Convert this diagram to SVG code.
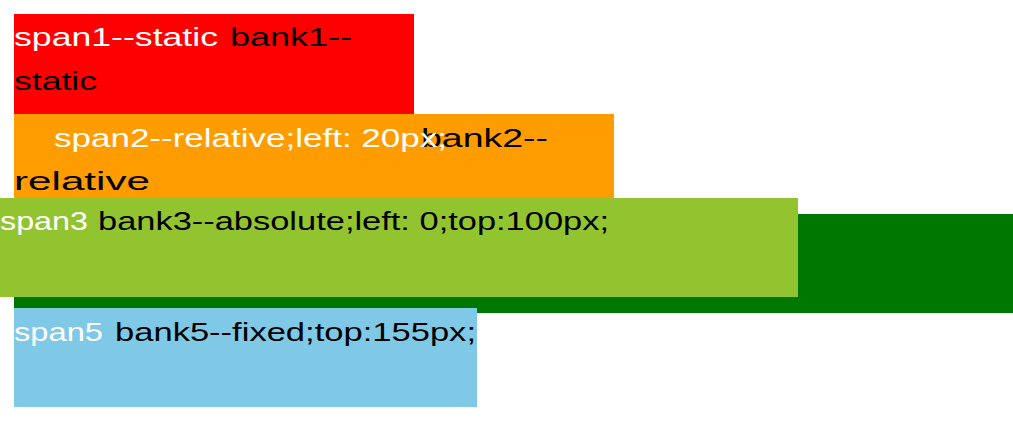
<svg xmlns="http://www.w3.org/2000/svg" width="1013" height="446" viewBox="0 0 1013 446">
<style>
text{font-family:"Liberation Sans","Noto Sans",Arial,sans-serif;font-size:26.5px}
.w{fill:#ffffff}
.k{fill:#000000}
</style>
<rect x="0" y="0" width="1013" height="446" fill="#ffffff"/>
<g id="bank1">
<rect x="14" y="14" width="400" height="100" fill="#ff0000"/>
<text class="w" x="14" y="46" textLength="204" lengthAdjust="spacingAndGlyphs">span1--static</text>
<text class="k" x="230" y="46" textLength="122" lengthAdjust="spacingAndGlyphs">bank1--</text>
<text class="k" x="14" y="90" textLength="83" lengthAdjust="spacingAndGlyphs">static</text>
</g>
<g id="bank2">
<rect x="14" y="114" width="600" height="90" fill="#ff9c00"/>
<text class="k" x="421" y="147" textLength="127" lengthAdjust="spacingAndGlyphs">bank2--</text>
<text class="w" x="54" y="147" textLength="393" lengthAdjust="spacingAndGlyphs">span2--relative;left: 20px;</text>
<text class="k" x="14" y="190" textLength="136" lengthAdjust="spacingAndGlyphs">relative</text>
</g>
<g id="bank4">
<rect x="14" y="214" width="999" height="99" fill="#007700"/>
</g>
<g id="bank3">
<rect x="0" y="198" width="798" height="99" fill="#92c42f"/>
<text class="w" x="0" y="230" textLength="88" lengthAdjust="spacingAndGlyphs">span3</text>
<text class="k" x="98" y="230" textLength="511" lengthAdjust="spacingAndGlyphs">bank3--absolute;left: 0;top:100px;</text>
</g>
<g id="bank5">
<rect x="14" y="308" width="463" height="99" fill="#7fc8e6"/>
<text class="w" x="14" y="341" textLength="89" lengthAdjust="spacingAndGlyphs">span5</text>
<text class="k" x="115" y="341" textLength="361" lengthAdjust="spacingAndGlyphs">bank5--fixed;top:155px;</text>
</g>
<g id="connectors"></g>
</svg>
